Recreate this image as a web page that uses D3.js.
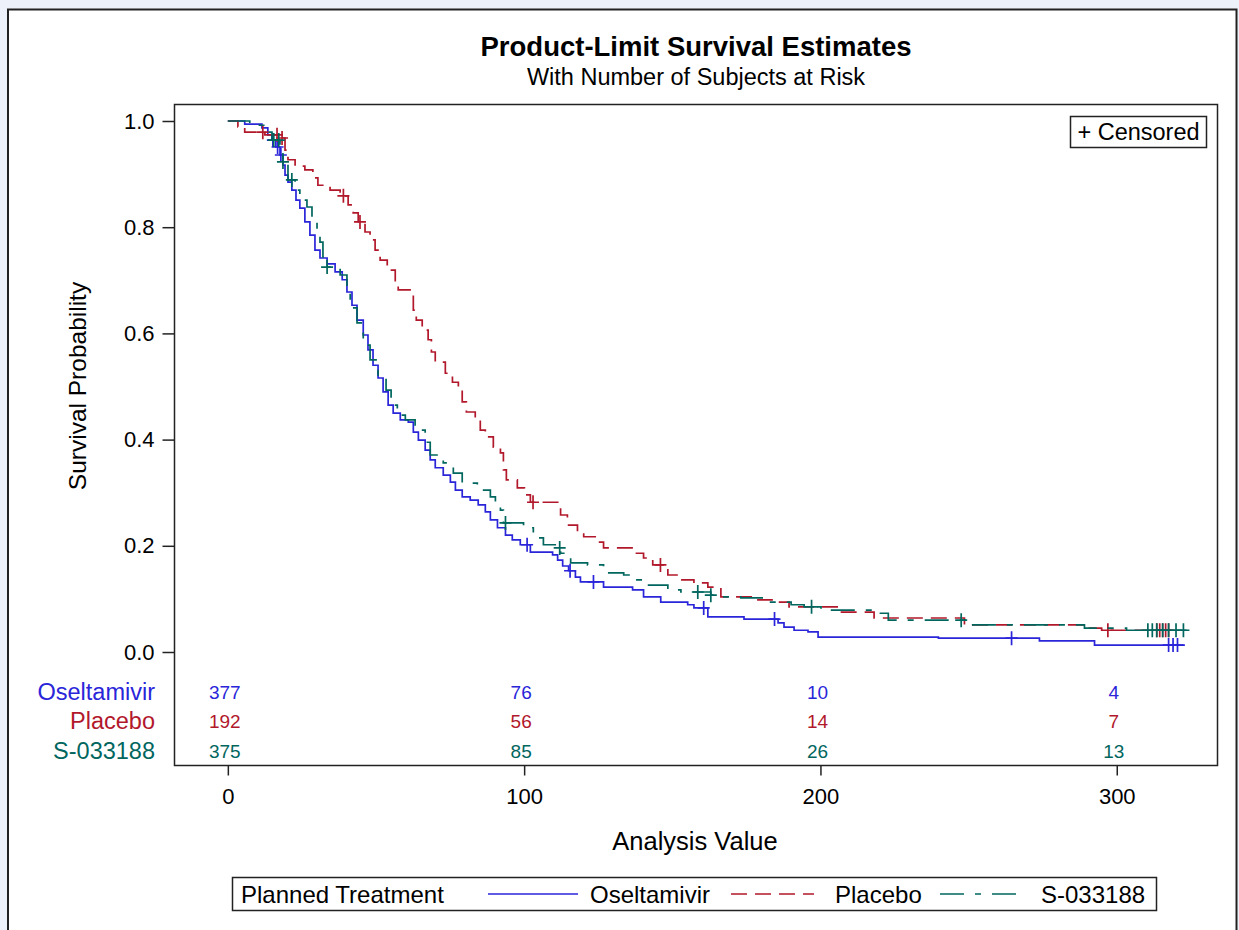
<!DOCTYPE html>
<html>
<head>
<meta charset="utf-8">
<script src="https://cdn.jsdelivr.net/npm/d3@7/dist/d3.min.js"></script>
<style>
  html, body { margin: 0; padding: 0; background: #EDF1F9; }
  svg { display: block; font-family: "Liberation Sans", Arial, sans-serif; }
</style>
</head>
<body>
<svg id="chart" width="1239" height="930"></svg>
<script>
// Kaplan-Meier step estimates: [time, survival after the event]
const seriesNames = ["Oseltamivir", "Placebo", "S-033188"];

const oseltamivirSteps = [[0,1],[5.7,0.994],[11.5,0.987],[13.5,0.974],[14.9,0.964],[16.2,0.951],[17.6,0.936],[18.6,0.917],[19.3,0.898],[20.3,0.885],[21.6,0.870],[23.0,0.851],[24.3,0.836],[26.0,0.810],[27.7,0.785],[29.4,0.757],[31.1,0.742],[33.5,0.731],[36.2,0.716],[38.6,0.701],[40.2,0.678],[41.9,0.653],[43.6,0.625],[45.7,0.597],[47.3,0.569],[49.0,0.540],[50.7,0.516],[52.4,0.490],[54.1,0.465],[55.8,0.450],[58.2,0.437],[60.9,0.433],[62.6,0.414],[64.3,0.399],[66.6,0.380],[68.3,0.362],[70.0,0.347],[72.7,0.333],[75.1,0.320],[76.8,0.305],[79.1,0.292],[81.8,0.286],[84.5,0.277],[86.9,0.264],[88.6,0.249],[91.0,0.234],[93.7,0.220],[96.0,0.211],[98.7,0.202],[102.1,0.188],[109.6,0.183],[111.3,0.173],[113.0,0.162],[115.0,0.153],[117.3,0.141],[119.0,0.132],[126.8,0.122],[136.6,0.117],[140.3,0.104],[146.1,0.094],[155.2,0.089],[157.3,0.083],[162.0,0.066],[174.2,0.062],[185.7,0.055],[187.7,0.047],[191.1,0.041],[195.8,0.038],[199.2,0.028],[239.8,0.026],[273.9,0.021],[292.5,0.013]];
const oseltamivirCensored = [15.2, 16.8, 17.9, 101, 115.5, 123.4, 160.6, 184.5, 264.5, 317.5, 319, 320.5];
const oseltamivirLastTime = 323;

const placeboSteps = [[0,1],[3.4,0.989],[5.7,0.979],[12.5,0.974],[17.6,0.968],[19.3,0.945],[20.3,0.927],[22.7,0.915],[26.0,0.908],[28.7,0.893],[30.4,0.879],[34.5,0.870],[37.9,0.859],[40.6,0.842],[42.3,0.827],[44.0,0.810],[46.3,0.791],[48.0,0.776],[49.7,0.757],[51.4,0.738],[53.8,0.719],[56.5,0.697],[57.5,0.682],[61.5,0.672],[62.6,0.644],[63.6,0.625],[65.6,0.606],[67.6,0.588],[68.7,0.565],[70.0,0.546],[73.4,0.525],[75.8,0.508],[77.8,0.493],[79.1,0.471],[80.5,0.452],[83.5,0.437],[85.2,0.418],[86.9,0.405],[89.6,0.386],[92.0,0.375],[93.0,0.343],[94.0,0.324],[97.7,0.309],[100.1,0.296],[102.1,0.282],[112.3,0.258],[114.6,0.239],[118.0,0.226],[120.1,0.217],[124.8,0.207],[126.8,0.196],[137.0,0.186],[140.3,0.177],[143.4,0.164],[148.5,0.145],[152.9,0.136],[157.3,0.130],[162.0,0.122],[166.4,0.104],[178.9,0.098],[184.3,0.094],[189.4,0.085],[206.0,0.075],[218.1,0.064],[248.6,0.051],[290.5,0.045],[294.9,0.041]];
const placeboCensored = [11.8, 16.6, 18.3, 39, 44.6, 103, 146, 297, 313.5, 314.5, 315.5, 316.5, 317.5];
const placeboLastTime = 318.6;

const s033188Steps = [[0,1],[7.4,0.992],[13.5,0.979],[14.9,0.964],[17.6,0.949],[18.6,0.923],[20.3,0.889],[22.7,0.870],[24.3,0.851],[26.7,0.838],[28.4,0.814],[30.1,0.795],[31.1,0.772],[32.1,0.744],[33.5,0.725],[37.9,0.710],[40.2,0.682],[41.3,0.648],[43.6,0.620],[45.7,0.578],[48.0,0.550],[50.7,0.522],[53.4,0.493],[55.1,0.465],[57.2,0.446],[59.9,0.437],[63.2,0.418],[66.6,0.395],[68.3,0.371],[72.7,0.356],[76.1,0.337],[79.1,0.318],[84.2,0.305],[88.6,0.292],[90.3,0.282],[92.0,0.267],[93.0,0.243],[99.8,0.234],[103.1,0.215],[106.5,0.202],[111.3,0.196],[112.3,0.186],[115.7,0.168],[121.4,0.164],[126.8,0.149],[133.6,0.145],[137.0,0.136],[141.7,0.126],[148.5,0.117],[152.9,0.113],[163.0,0.107],[167.4,0.104],[173.1,0.102],[180.9,0.094],[190.1,0.089],[194.5,0.085],[200.2,0.079],[218.1,0.073],[222.9,0.060],[249.9,0.051],[289.1,0.045],[303.3,0.041]];
const s033188Censored = [15.5, 17.2, 18.6, 21.6, 33.5, 93.7, 112, 158.6, 163, 197, 247.5, 310.5, 312, 313.5, 315.5, 317.5, 320, 322.5];
const s033188LastTime = 323.6;

// Number of subjects at risk
const atRiskTimes = [0, 100, 200, 300];
const oseltamivirAtRisk = [377, 76, 10, 4];
const placeboAtRisk = [192, 56, 14, 7];
const s033188AtRisk = [375, 85, 26, 13];

const xTickValues = [0, 100, 200, 300];
const yTickValues = [0, 0.2, 0.4, 0.6, 0.8, 1.0];

// Series styling
const colors = ["#2A25D9", "#B2182B", "#01665E"];
const dashes = [null, "16,8", "24,11,6,11"];

const series = [
  { name: seriesNames[0], steps: oseltamivirSteps, censored: oseltamivirCensored, last: oseltamivirLastTime, atRisk: oseltamivirAtRisk },
  { name: seriesNames[1], steps: placeboSteps, censored: placeboCensored, last: placeboLastTime, atRisk: placeboAtRisk },
  { name: seriesNames[2], steps: s033188Steps, censored: s033188Censored, last: s033188LastTime, atRisk: s033188AtRisk }
];

const svg = d3.select("#chart");

// Outer panel
svg.append("rect").attr("x", 8).attr("y", 9.5).attr("width", 1228.5).attr("height", 940)
  .attr("fill", "#fff").attr("stroke", "#222").attr("stroke-width", 2);

// Plot frame
const frame = { left: 174.5, top: 104.5, right: 1217.5, bottom: 765.5 };
const x = d3.scaleLinear().domain([-18, 334]).range([frame.left, frame.right]);
const y = d3.scaleLinear().domain([0, 1]).range([652, 121]);

// Titles
svg.append("text").attr("x", 696).attr("y", 56).attr("text-anchor", "middle")
  .attr("font-size", 27.5).attr("font-weight", "bold").attr("fill", "#000")
  .text("Product-Limit Survival Estimates");
svg.append("text").attr("x", 696).attr("y", 85).attr("text-anchor", "middle")
  .attr("font-size", 23.5).attr("fill", "#000")
  .text("With Number of Subjects at Risk");

// Axes
const yAxis = d3.axisLeft(y).tickValues(yTickValues).tickFormat(d3.format(".1f")).tickSize(12).tickPadding(8);
svg.append("g").attr("transform", `translate(${frame.left},0)`).call(yAxis)
  .call(g => g.select(".domain").remove())
  .call(g => g.selectAll("line").attr("stroke", "#222").attr("stroke-width", 1.5))
  .call(g => g.selectAll("text").attr("font-size", 22).attr("fill", "#000").attr("font-family", "Liberation Sans, Arial, sans-serif"));

const xAxis = d3.axisBottom(x).tickValues(xTickValues).tickFormat(d3.format("d")).tickSize(10).tickPadding(13);
svg.append("g").attr("transform", `translate(0,${frame.bottom})`).call(xAxis)
  .call(g => g.select(".domain").remove())
  .call(g => g.selectAll("line").attr("stroke", "#222").attr("stroke-width", 1.5))
  .call(g => g.selectAll("text").attr("font-size", 22).attr("fill", "#000").attr("font-family", "Liberation Sans, Arial, sans-serif"));

svg.append("rect").attr("x", frame.left).attr("y", frame.top)
  .attr("width", frame.right - frame.left).attr("height", frame.bottom - frame.top)
  .attr("fill", "none").attr("stroke", "#222").attr("stroke-width", 1.5);

// Axis labels
svg.append("text").attr("transform", "translate(86,386) rotate(-90)").attr("text-anchor", "middle")
  .attr("font-size", 24.5).attr("fill", "#000").text("Survival Probability");
svg.append("text").attr("x", 695).attr("y", 850).attr("text-anchor", "middle")
  .attr("font-size", 25.5).attr("fill", "#000").text("Analysis Value");

// Survival curves
const line = d3.line().x(d => x(d[0])).y(d => y(d[1])).curve(d3.curveStepAfter);
const survivalAt = (steps, t) => {
  let s = steps[0][1];
  for (const [st, sv] of steps) { if (st <= t) s = sv; else break; }
  return s;
};

const curves = svg.append("g").attr("fill", "none");
series.forEach((s, i) => {
  const pts = s.steps.concat([[s.last, s.steps[s.steps.length - 1][1]]]);
  curves.append("path").attr("d", line(pts))
    .attr("stroke", colors[i]).attr("stroke-width", 1.7)
    .attr("stroke-dasharray", dashes[i]);
  const marks = curves.append("g").attr("stroke", colors[i]).attr("stroke-width", 1.7);
  s.censored.forEach(t => {
    const cx = x(t), cy = y(survivalAt(s.steps, t));
    marks.append("path").attr("d", `M${cx - 6},${cy}H${cx + 6}M${cx},${cy - 7}V${cy + 7}`);
  });
});

// At-risk table
const rowY = [692, 721, 751];
series.forEach((s, i) => {
  svg.append("text").attr("x", 155).attr("y", rowY[i]).attr("dy", "0.36em")
    .attr("text-anchor", "end").attr("font-size", 23.5).attr("fill", colors[i]).text(s.name);
  svg.selectAll(null).data(atRiskTimes).enter().append("text")
    .attr("x", d => x(d) - 3).attr("y", rowY[i]).attr("dy", "0.36em")
    .attr("text-anchor", "middle").attr("font-size", 19).attr("fill", colors[i])
    .text((d, j) => s.atRisk[j]);
});

// Censored legend
svg.append("rect").attr("x", 1070.5).attr("y", 116.5).attr("width", 136).attr("height", 31)
  .attr("fill", "#fff").attr("stroke", "#222").attr("stroke-width", 1.5);
svg.append("text").attr("x", 1138.5).attr("y", 132).attr("dy", "0.36em").attr("text-anchor", "middle")
  .attr("font-size", 23.5).attr("fill", "#000").text("+ Censored");

// Group legend
const legend = svg.append("g");
legend.append("rect").attr("x", 232.5).attr("y", 877.5).attr("width", 924).attr("height", 33)
  .attr("fill", "#fff").attr("stroke", "#222").attr("stroke-width", 1.5);
legend.append("text").attr("x", 241).attr("y", 894).attr("dy", "0.36em")
  .attr("font-size", 24).attr("fill", "#000").text("Planned Treatment");
const legendLine = [[488, 578, 590], [731, 814, 835], [940, 1022, 1041]];
series.forEach((s, i) => {
  const [x0, x1, tx] = legendLine[i];
  legend.append("line").attr("x1", x0).attr("x2", x1).attr("y1", 894).attr("y2", 894)
    .attr("stroke", colors[i]).attr("stroke-width", 1.7).attr("stroke-dasharray", dashes[i]);
  legend.append("text").attr("x", tx).attr("y", 894).attr("dy", "0.36em")
    .attr("font-size", 24).attr("fill", "#000").text(s.name);
});
</script>
</body>
</html>
